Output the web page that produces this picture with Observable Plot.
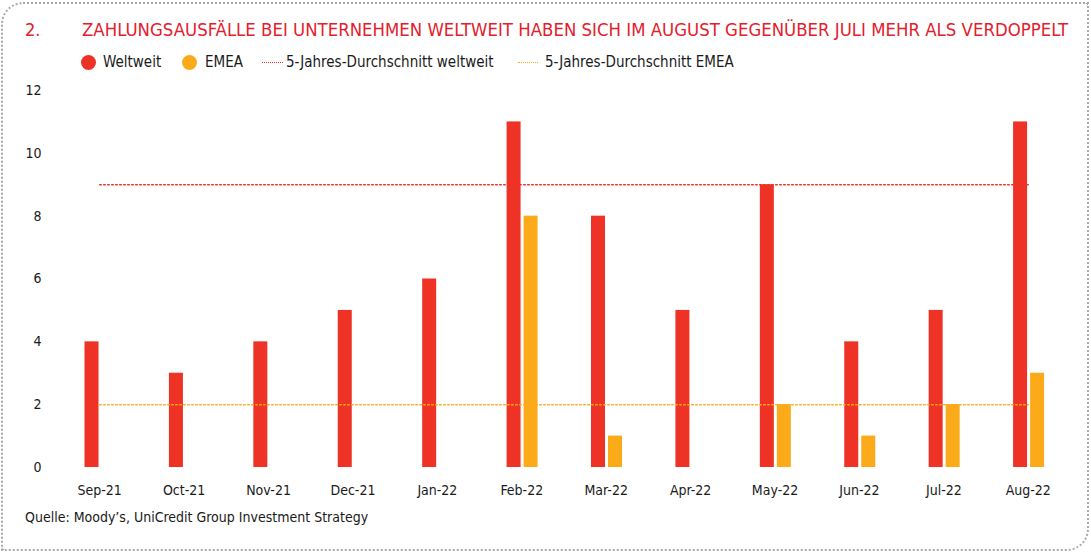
<!DOCTYPE html>
<html>
<head>
<meta charset="utf-8">
<script src="https://cdn.jsdelivr.net/npm/d3@7"></script>
<script src="https://cdn.jsdelivr.net/npm/@observablehq/plot@0.6"></script>
<style>
  html, body { margin: 0; padding: 0; background: #fff; }
  body { width: 1091px; height: 553px; position: relative; overflow: hidden;
         font-family: "DejaVu Sans Condensed", "DejaVu Sans", sans-serif; color: #1a1a1a; }
  #frame { position: absolute; left: 1px; top: 2px; width: 1084px; height: 545px;
           border: 2px dotted #a8a8a8; border-radius: 22px 0 22px 0; }
  #num { position: absolute; left: 25px; top: 19px; font-size: 18px; color: #e3202c; }
  #title { position: absolute; left: 82px; top: 19px; font-size: 18px; color: #e3202c;
           white-space: nowrap; transform-origin: 0 0; }
  #legend { position: absolute; left: 0; top: 52px; font-size: 15px; white-space: nowrap; }
  .dot { position: absolute; top: 3px; width: 15px; height: 15px; border-radius: 50%; }
  .dash { position: absolute; top: 10px; height: 0; border-top: 1.6px dotted; }
  .lt { position: absolute; top: 1px; }
  #chart { position: absolute; left: 0; top: 80px; }
  #caption { position: absolute; left: 25px; top: 509px; font-size: 14px; white-space: nowrap; }
</style>
</head>
<body>
<div id="frame"></div>
<div id="num">2.</div>
<div id="title">ZAHLUNGSAUSFÄLLE BEI UNTERNEHMEN WELTWEIT HABEN SICH IM AUGUST GEGENÜBER JULI MEHR ALS VERDOPPELT</div>
<div id="legend"></div>
<div id="chart"></div>
<div id="caption">Quelle: Moody’s, UniCredit Group Investment Strategy</div>
<script>
const months = ["Sep-21","Oct-21","Nov-21","Dec-21","Jan-22","Feb-22","Mar-22","Apr-22","May-22","Jun-22","Jul-22","Aug-22"];
const weltweit = [4, 3, 4, 5, 6, 11, 8, 5, 9, 4, 5, 11];
const emea = [0, 0, 0, 0, 0, 8, 1, 0, 2, 1, 2, 3];
const avgWeltweit = 9;
const avgEmea = 2;
const yTicks = [0, 2, 4, 6, 8, 10, 12];
const seriesNames = ["Weltweit", "EMEA", "5-Jahres-Durchschnitt weltweit", "5-Jahres-Durchschnitt EMEA"];

const RED = "#ee3226", YEL = "#fbab1a";

// fit title width to reference
const t = document.getElementById("title");
const w = t.getBoundingClientRect().width;
t.style.transform = `scaleX(${986 / w})`;

// legend
const leg = document.getElementById("legend");
const legItems = [
  {mx: 81, mw: 15, tx: 103, kind: "dot", c: RED, label: seriesNames[0]},
  {mx: 182, mw: 15, tx: 205, kind: "dot", c: YEL, label: seriesNames[1]},
  {mx: 262, mw: 21, tx: 286, kind: "dash", c: RED, label: seriesNames[2]},
  {mx: 518, mw: 20, tx: 545, kind: "dash", c: YEL, label: seriesNames[3]}
];
for (const it of legItems) {
  const s = document.createElement("span");
  s.className = it.kind;
  s.style.left = it.mx + "px";
  s.style.width = it.mw + "px";
  if (it.kind === "dot") s.style.background = it.c; else s.style.borderColor = it.c;
  leg.appendChild(s);
  const l = document.createElement("span");
  l.className = "lt";
  l.style.left = it.tx + "px";
  l.textContent = it.label;
  leg.appendChild(l);
}

const bars = months.map((m, i) => ({month: m, w: weltweit[i], e: emea[i]}));
const avgW = [{month: months[0], v: avgWeltweit}, {month: months[months.length - 1], v: avgWeltweit}];
const avgE = [{month: months[0], v: avgEmea}, {month: months[months.length - 1], v: avgEmea}];

const step = (1091 - 57 - 21) / months.length;
const plot = Plot.plot({
  width: 1091,
  height: 427,
  marginLeft: 57,
  marginRight: 21,
  marginTop: 10,
  marginBottom: 40,
  style: {fontFamily: "'DejaVu Sans Condensed', 'DejaVu Sans', sans-serif", fontSize: "14px", color: "#1a1a1a"},
  x: {domain: months, padding: 0, round: false, label: null, tickSize: 0, tickPadding: 18},
  y: {domain: [0, 12], ticks: yTicks, label: null, tickSize: 0, tickPadding: 16},
  marks: [
    Plot.barY(bars, {x: "month", y: "w", fill: RED, insetLeft: 27.5, insetRight: step - 27.5 - 14}),
    Plot.barY(bars.filter(d => d.e > 0), {x: "month", y: "e", fill: YEL, insetLeft: 44.5, insetRight: step - 44.5 - 14}),
    Plot.lineY(avgW, {x: "month", y: "v", stroke: RED, strokeWidth: 1.5, strokeDasharray: "1.5,2.5"}),
    Plot.lineY(avgE, {x: "month", y: "v", stroke: YEL, strokeWidth: 1.5, strokeDasharray: "1.5,2.5"})
  ]
});
document.getElementById("chart").appendChild(plot);
</script>
</body>
</html>
